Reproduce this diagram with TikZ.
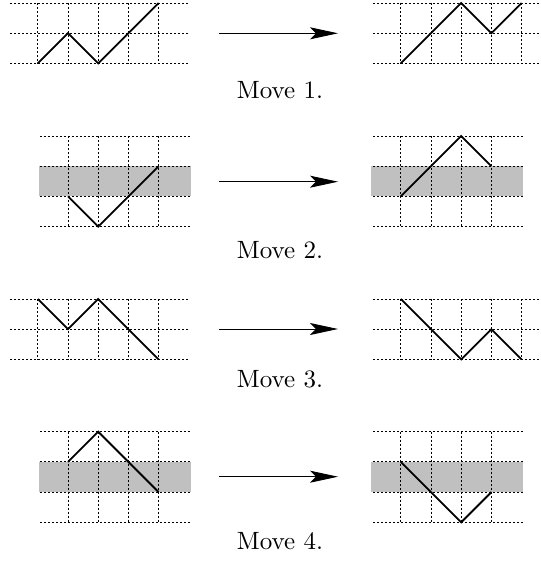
\documentclass[tikz,border=0pt]{standalone}
\usetikzlibrary{arrows.meta}
\definecolor{bandgray}{RGB}{192,192,192}
\newcommand\drawpanel[7]{%
  \begin{scope}[panel={#1}{#2}]
    \foreach \j in {0,...,#5} \draw[gridline] (#6,\j) -- (#7,\j);
    \foreach \i in {#3,...,#4} \draw[gridline] (\i,0) -- (\i,#5);
  \end{scope}}
\newcommand\movetext[1]{\scalebox{2.5}{\fontsize{10}{12}\selectfont #1}}
\begin{document}
\begin{tikzpicture}[x=1pt,y=-1pt,
  panel/.style 2 args={shift={(#1,#2)},x=30.2pt,y=-30.2pt},
  gridline/.style={line width=0.9pt,dash pattern=on 2pt off 2pt},
  walk/.style={line width=1.8pt},
  band/.style={fill=bandgray,draw=none},
  movearrow/.style={line width=0.9pt,-{Stealth[length=28pt,width=12pt,inset=6pt]}},
  movelabel/.style={anchor=base,inner sep=0pt}]
\useasboundingbox (0,0) rectangle (541,566);
\clip (0,0) rectangle (541,566);

% ---- Move 1 ----
\drawpanel{37.8}{3}{0}{4}{2}{-0.92}{5.04}
\drawpanel{400.8}{3}{0}{4}{2}{-0.92}{5.04}
\begin{scope}[panel={37.8}{3}]
  \draw[walk] (0,2) -- (1,1) -- (2,2) -- (4,0);
\end{scope}
\begin{scope}[panel={400.8}{3}]
  \draw[walk] (0,2) -- (2,0) -- (3,1) -- (4,0);
\end{scope}
\coordinate (a1s) at (219,33.3);
\coordinate (a1e) at (338,33.3);
\draw[movearrow] (a1s) -- (a1e);
\node[movelabel] (m1) at (280,98.7) {\movetext{Move 1.}};

% ---- Move 2 ----
\begin{scope}[panel={37.8}{136}]
  \fill[band] (0.05,1) rectangle (5.07,2);
\end{scope}
\begin{scope}[panel={400.8}{136}]
  \fill[band] (-1.0,1) rectangle (4.04,2);
\end{scope}
\drawpanel{37.8}{136}{1}{4}{3}{0.07}{5.04}
\drawpanel{400.8}{136}{0}{3}{3}{-0.92}{4.05}
\begin{scope}[panel={37.8}{136}]
  \draw[walk] (1,2) -- (2,3) -- (4,1);
\end{scope}
\begin{scope}[panel={400.8}{136}]
  \draw[walk] (0,2) -- (2,0) -- (3,1);
\end{scope}
\coordinate (a2s) at (219,181.7);
\coordinate (a2e) at (338,181.7);
\draw[movearrow] (a2s) -- (a2e);
\node[movelabel] (m2) at (280,258) {\movetext{Move 2.}};

% ---- Move 3 ----
\drawpanel{37.8}{299}{0}{4}{2}{-0.92}{5.04}
\drawpanel{400.8}{299}{0}{4}{2}{-0.92}{5.04}
\begin{scope}[panel={37.8}{299}]
  \draw[walk] (0,0) -- (1,1) -- (2,0) -- (4,2);
\end{scope}
\begin{scope}[panel={400.8}{299}]
  \draw[walk] (0,0) -- (2,2) -- (3,1) -- (4,2);
\end{scope}
\coordinate (a3s) at (219,329);
\coordinate (a3e) at (338,329);
\draw[movearrow] (a3s) -- (a3e);
\node[movelabel] (m3) at (280,387) {\movetext{Move 3.}};

% ---- Move 4 ----
\begin{scope}[panel={37.8}{431.7}]
  \fill[band] (0.05,1) rectangle (5.07,2);
\end{scope}
\begin{scope}[panel={400.8}{431.7}]
  \fill[band] (-1.0,1) rectangle (4.04,2);
\end{scope}
\drawpanel{37.8}{431.7}{1}{4}{3}{0.07}{5.04}
\drawpanel{400.8}{431.7}{0}{3}{3}{-0.92}{4.05}
\begin{scope}[panel={37.8}{431.7}]
  \draw[walk] (1,1) -- (2,0) -- (4,2);
\end{scope}
\begin{scope}[panel={400.8}{431.7}]
  \draw[walk] (0,1) -- (2,3) -- (3,2);
\end{scope}
\coordinate (a4s) at (219,476.7);
\coordinate (a4e) at (338,476.7);
\draw[movearrow] (a4s) -- (a4e);
\node[movelabel] (m4) at (280,549) {\movetext{Move 4.}};
\end{tikzpicture}
\end{document}
